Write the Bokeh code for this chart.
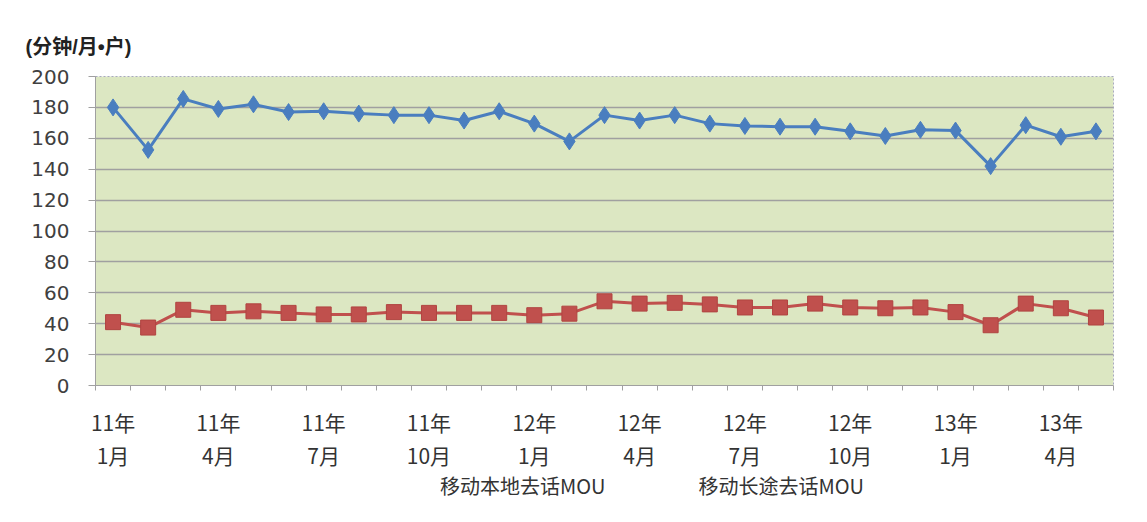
from bokeh.plotting import figure
from bokeh.models import Range1d, FixedTicker, Legend, LegendItem, LinearAxis
from bokeh.layouts import column
from bokeh.embed import file_html
from bokeh.resources import INLINE

months = ["11年1月", "11年2月", "11年3月", "11年4月", "11年5月", "11年6月", "11年7月", "11年8月",
          "11年9月", "11年10月", "11年11月", "11年12月", "12年1月", "12年2月", "12年3月", "12年4月",
          "12年5月", "12年6月", "12年7月", "12年8月", "12年9月", "12年10月", "12年11月", "12年12月",
          "13年1月", "13年2月", "13年3月", "13年4月", "13年5月"]
local_mou = [180, 152.5, 185.5, 179, 182, 177, 177.5, 176, 175, 175, 171.5, 177.5, 169.5, 158,
             175, 171.5, 175, 169.5, 168, 167.5, 167.5, 164.5, 161.5, 165.5, 165, 142, 168.5, 161, 164.5]
long_mou = [41, 37.5, 49, 47, 48, 47, 46, 46, 47.5, 47, 47, 47, 45.5, 46.5, 54.5, 53, 53.5, 52.5,
            50.5, 50.5, 53, 50.5, 50, 50.5, 47.5, 39, 53, 50, 44]
series_names = ["移动本地去话MOU", "移动长途去话MOU"]
y_unit = "(分钟/月•户)"
label_every = 3

x = list(range(len(months)))
tick_pos = x[::label_every]
year_labels = {i: months[i].split("年")[0] + "年" for i in tick_pos}
month_labels = {i: months[i].split("年")[1] for i in tick_pos}

blue = "#4a7ebf"
red = "#c0504d"

p = figure(frame_width=1018, frame_height=309, output_backend="svg", toolbar_location=None,
           x_range=Range1d(-0.5, len(months) - 0.5), y_range=Range1d(0, 200),
           min_border_left=95, min_border_right=26, min_border_top=76, min_border_bottom=0)

p.background_fill_color = "#dce7c2"
p.border_fill_color = "white"
p.outline_line_color = "#a8a8c0"
p.outline_line_dash = "2 2"
p.outline_line_width = 1

p.title.text = y_unit
p.title.text_font = "Liberation Sans, Noto Sans CJK SC"
p.title.text_font_size = "20px"
p.title.text_font_style = "bold"
p.title.text_color = "#222222"
p.title.align = "left"
p.title.offset = -70
p.title.standoff = 37

# y axis
p.yaxis.ticker = FixedTicker(ticks=list(range(0, 201, 20)))
p.yaxis.major_label_text_font = "DejaVu Sans"
p.yaxis.major_label_text_font_size = "20px"
p.yaxis.major_label_text_color = "#404040"
p.yaxis.axis_line_color = "#a0a0a0"
p.yaxis.major_tick_line_color = "#a0a0a0"
p.yaxis.major_tick_out = 7
p.yaxis.major_tick_in = 0
p.yaxis.minor_tick_line_color = None
p.yaxis.major_label_standoff = 19

# x axis: year row
p.xaxis.ticker = FixedTicker(ticks=tick_pos, minor_ticks=[i - 0.5 for i in range(len(months) + 1)])
p.xaxis.major_label_overrides = year_labels
p.xaxis.major_tick_line_color = None
p.xaxis.minor_tick_line_color = "#a0a0a0"
p.xaxis.minor_tick_out = 5
p.xaxis.minor_tick_in = 0
p.xaxis.axis_line_color = "#a0a0a0"
p.xaxis.major_label_text_font = "Noto Sans CJK SC"
p.xaxis.major_label_text_font_size = "21px"
p.xaxis.major_label_text_color = "#333333"
p.xaxis.major_label_standoff = 15

# x axis: month row
month_axis = LinearAxis(ticker=FixedTicker(ticks=tick_pos, minor_ticks=[]),
                        major_label_overrides=month_labels,
                        axis_line_color=None, major_tick_line_color=None,
                        minor_tick_line_color=None, major_tick_out=0, major_tick_in=0,
                        major_label_text_font="Noto Sans CJK SC",
                        major_label_text_font_size="21px",
                        major_label_text_color="#333333", major_label_standoff=0)
p.add_layout(month_axis, "below")

p.xgrid.grid_line_color = None
p.ygrid.grid_line_color = "#a0a0a0"
p.ygrid.grid_line_width = 1.5

p.line(x, local_mou, line_color=blue, line_width=3)
p.scatter(x, local_mou, marker="diamond", size=17, fill_color=blue, line_color=blue)
p.line(x, long_mou, line_color=red, line_width=3)
p.scatter(x, long_mou, marker="square", size=15, fill_color=red, line_color="#b04440")

# legend strip: a separate small figure holding the legend
lg = figure(width=1139, height=36, output_backend="svg", toolbar_location=None,
            x_axis_type=None, y_axis_type=None, min_border=0,
            x_range=Range1d(0, 1), y_range=Range1d(0, 1))
lg.outline_line_color = None
lg.grid.visible = False
lg.background_fill_color = "white"
k1 = lg.line([], [], line_color=blue, line_width=3)
s1 = lg.scatter([], [], marker="diamond", size=17, fill_color=blue, line_color=blue)
k2 = lg.line([], [], line_color=red, line_width=3)
s2 = lg.scatter([], [], marker="square", size=15, fill_color=red, line_color="#b04440")

legend = Legend(items=[LegendItem(label=series_names[0], renderers=[k1, s1]),
                       LegendItem(label=series_names[1], renderers=[k2, s2])],
                orientation="horizontal", location=(287, 8),
                label_text_font="Noto Sans CJK SC", label_text_font_size="20px",
                label_text_color="#333333", glyph_width=55, glyph_height=20, label_height=20,
                label_standoff=3, spacing=35, border_line_color=None,
                background_fill_alpha=0, padding=0, margin=0)
lg.add_layout(legend)

layout = column(p, lg, spacing=0)
open("out.html", "w").write(file_html(layout, INLINE))
